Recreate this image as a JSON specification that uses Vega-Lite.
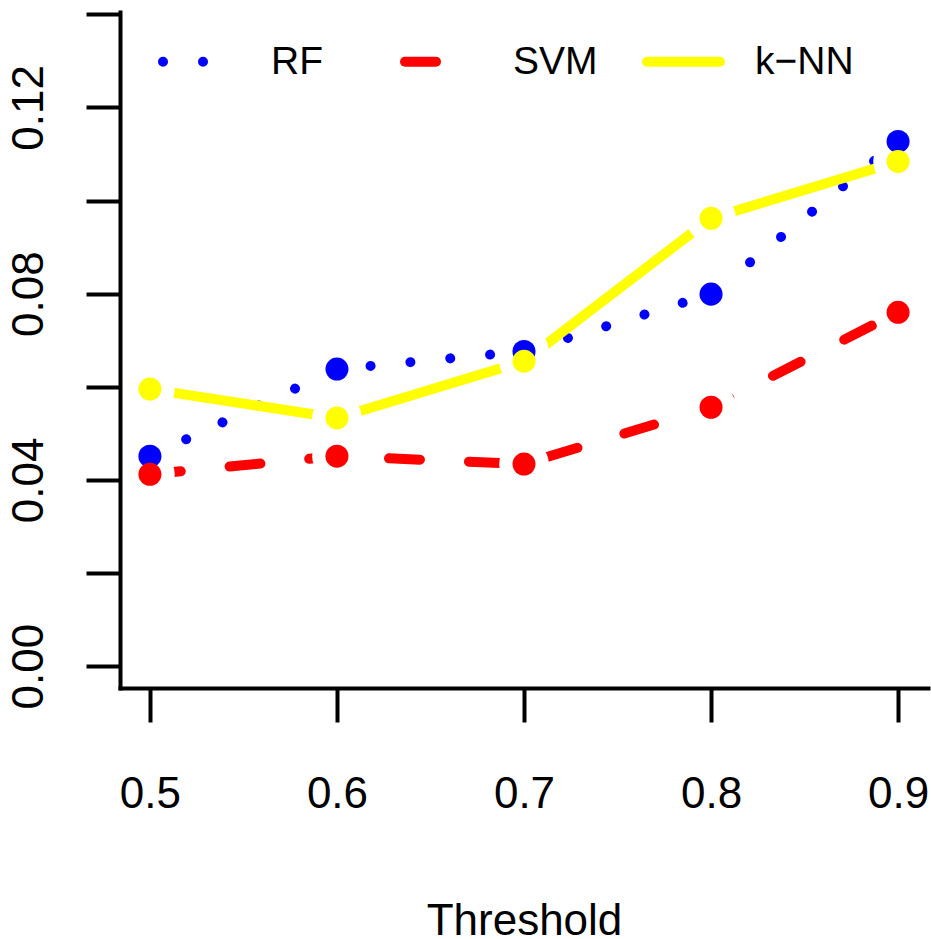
{
  "$schema": "https://vega.github.io/schema/vega-lite/v6.json",
  "width": 808,
  "height": 676,
  "autosize": {"type": "none"},
  "padding": {"left": 120, "top": 12, "right": 3, "bottom": 251},
  "background": "white",
  "config": {
    "view": {"stroke": null},
    "font": "Liberation Sans",
    "axis": {
      "grid": false,
      "domainColor": "black",
      "domainWidth": 4,
      "domainCap": "square",
      "tickColor": "black",
      "tickWidth": 4,
      "tickSize": 34,
      "labelFont": "Liberation Sans",
      "labelFontSize": 44,
      "labelColor": "black",
      "labelFlush": false,
      "labelOverlap": false,
      "titleFont": "Liberation Sans",
      "titleFontSize": 44,
      "titleFontWeight": "normal",
      "titleColor": "black"
    }
  },
  "data": {
    "values": [
      {"threshold": 0.5, "model": "RF", "value": 0.0451},
      {"threshold": 0.6, "model": "RF", "value": 0.0638},
      {"threshold": 0.7, "model": "RF", "value": 0.0676},
      {"threshold": 0.8, "model": "RF", "value": 0.0799},
      {"threshold": 0.9, "model": "RF", "value": 0.1127},
      {"threshold": 0.5, "model": "SVM", "value": 0.0412},
      {"threshold": 0.6, "model": "SVM", "value": 0.0451},
      {"threshold": 0.7, "model": "SVM", "value": 0.0434},
      {"threshold": 0.8, "model": "SVM", "value": 0.0556},
      {"threshold": 0.9, "model": "SVM", "value": 0.0760},
      {"threshold": 0.5, "model": "k-NN", "value": 0.0595},
      {"threshold": 0.6, "model": "k-NN", "value": 0.0533},
      {"threshold": 0.7, "model": "k-NN", "value": 0.0655},
      {"threshold": 0.8, "model": "k-NN", "value": 0.0962},
      {"threshold": 0.9, "model": "k-NN", "value": 0.1084}
    ]
  },
  "encoding": {
    "x": {
      "field": "threshold",
      "type": "quantitative",
      "scale": {"domain": [0.484, 0.916], "nice": false, "zero": false},
      "axis": {
        "values": [0.5, 0.6, 0.7, 0.8, 0.9],
        "format": ".1f",
        "labelBaseline": "alphabetic",
        "labelPadding": 85,
        "title": "Threshold",
        "titlePadding": 83
      }
    },
    "y": {
      "field": "value",
      "type": "quantitative",
      "scale": {"domain": [-0.0047, 0.1405], "nice": false, "zero": false},
      "axis": {
        "values": [0, 0.02, 0.04, 0.06, 0.08, 0.1, 0.12, 0.14],
        "labelExpr": "round(datum.value * 100) % 4 == 0 && datum.value < 0.13 ? format(datum.value, '.2f') : ''",
        "labelAngle": 270,
        "labelAlign": "center",
        "labelBaseline": "alphabetic",
        "labelPadding": 44,
        "title": null
      }
    }
  },
  "layer": [
    {
      "mark": {"type": "line", "strokeWidth": 0, "strokeCap": "round"},
      "encoding": {
        "color": {
          "field": "model",
          "type": "nominal",
          "scale": {"domain": ["RF", "SVM", "k-NN"], "range": ["#0000ff", "#ff0000", "#ffff00"]},
          "legend": {
            "title": null, "orient": "none", "legendX": 38, "legendY": 8,
            "direction": "horizontal", "columns": 3, "gridAlign": "all", "columnPadding": 15,
            "symbolType": "stroke", "symbolSize": 5329, "symbolStrokeWidth": 10, "symbolOpacity": 1,
            "labelOffset": 30, "labelFontSize": 39, "labelFont": "Liberation Sans", "labelColor": "black",
            "labelLimit": 300, "padding": 0,
            "labelExpr": "replace(datum.label, '-', '−')",
            "encode": {"symbols": {"update": {"strokeCap": {"value": "round"}, "strokeWidth": {"value": 10}}}}
          }
        },
        "strokeDash": {
          "field": "model",
          "type": "nominal",
          "scale": {"domain": ["RF", "SVM", "k-NN"], "range": [[0.01, 40], [31, 49], [1, 0]]},
          "legend": {
            "title": null, "orient": "none", "legendX": 38, "legendY": 8,
            "direction": "horizontal", "columns": 3, "gridAlign": "all", "columnPadding": 15,
            "symbolType": "stroke", "symbolSize": 5329, "symbolStrokeWidth": 10, "symbolOpacity": 1,
            "labelOffset": 30, "labelFontSize": 39, "labelFont": "Liberation Sans", "labelColor": "black",
            "labelLimit": 300, "padding": 0,
            "labelExpr": "replace(datum.label, '-', '−')",
            "encode": {"symbols": {"update": {"strokeCap": {"value": "round"}, "strokeWidth": {"value": 10}}}}
          }
        }
      }
    },
    {
      "transform": [{"filter": "datum.model == 'RF'"}],
      "mark": {"type": "line", "color": "#0000ff", "strokeWidth": 10, "strokeCap": "round", "strokeDash": [0.01, 40]}
    },
    {
      "transform": [{"filter": "datum.model == 'SVM'"}],
      "mark": {"type": "line", "color": "#ff0000", "strokeWidth": 10, "strokeCap": "round", "strokeDash": [31, 49]}
    },
    {
      "transform": [{"filter": "datum.model == 'k-NN'"}],
      "mark": {"type": "line", "color": "#ffff00", "strokeWidth": 10, "strokeCap": "round", "strokeJoin": "round"}
    },
    {
      "mark": {"type": "circle", "color": "white", "opacity": 1, "size": 2463}
    },
    {
      "mark": {"type": "circle", "opacity": 1, "size": 530},
      "encoding": {
        "color": {"field": "model", "type": "nominal", "legend": null}
      }
    }
  ]
}
